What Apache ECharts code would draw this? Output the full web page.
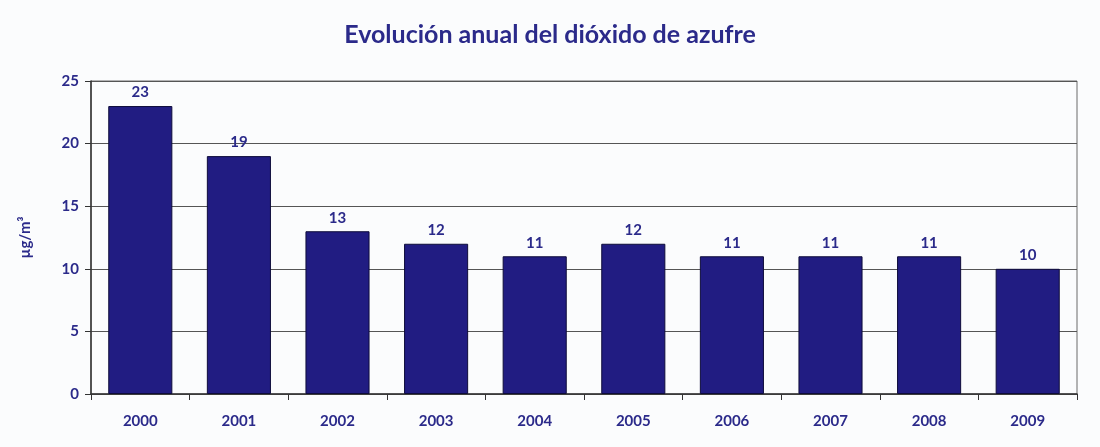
<!DOCTYPE html>
<html>
<head>
<meta charset="utf-8">
<script src="https://cdn.jsdelivr.net/npm/echarts@6/dist/echarts.min.js"></script>
<style>
  html, body { margin: 0; padding: 0; background: #fbfcfd; }
  #chart { width: 1100px; height: 447px; }
</style>
</head>
<body>
<div id="chart"></div>
<script>
const years = ["2000", "2001", "2002", "2003", "2004", "2005", "2006", "2007", "2008", "2009"];
const so2 = [23, 19, 13, 12, 11, 12, 11, 11, 11, 10];
const yTicks = [0, 5, 10, 15, 20, 25];

const textColor = "#2b2a8a";
const font = "Lato";

const chart = echarts.init(document.getElementById("chart"));
chart.setOption({
    backgroundColor: "#fbfcfd",
    animation: false,
    title: {
        text: "Evolución anual del dióxido de azufre",
        left: "center",
        top: 17,
        textStyle: {
            color: textColor,
            fontFamily: font,
            fontSize: 25,
            fontWeight: "bold",
        },
    },
    grid: {
        left: 91,
        right: 23,
        top: 81,
        bottom: 53,
        show: true,
        borderColor: "#6b6b6b",
        borderWidth: 1,
    },
    xAxis: {
        type: "category",
        data: years,
        axisLine: { lineStyle: { color: "#333", width: 1.5 } },
        axisTick: { show: true, alignWithLabel: false, length: 6, lineStyle: { color: "#333" } },
        axisLabel: {
            color: textColor,
            fontFamily: font,
            fontWeight: "bold",
            fontSize: 15,
            margin: 20,
        },
    },
    yAxis: {
        type: "value",
        min: yTicks[0],
        max: yTicks[yTicks.length - 1],
        interval: 5,
        name: "µg/m³",
        nameLocation: "middle",
        nameGap: 58,
        nameRotate: 90,
        nameTextStyle: {
            color: textColor,
            fontFamily: font,
            fontWeight: "bold",
            fontSize: 15,
        },
        axisLine: { show: true, lineStyle: { color: "#333", width: 1.5 } },
        axisTick: { show: true, length: 6, lineStyle: { color: "#333" } },
        axisLabel: {
            color: textColor,
            fontFamily: font,
            fontWeight: "bold",
            fontSize: 15,
            margin: 12,
        },
        splitLine: { lineStyle: { color: "#555", width: 1.2 } },
    },
    series: [
        {
            type: "bar",
            data: so2,
            barWidth: "65%",
            itemStyle: {
                color: "#211c82",
                borderColor: "#0e0c3a",
                borderWidth: 1,
            },
            label: {
                show: true,
                position: "top",
                distance: 6,
                color: textColor,
                fontFamily: font,
                fontWeight: "bold",
                fontSize: 15,
            },
        },
    ],
});
</script>
</body>
</html>
